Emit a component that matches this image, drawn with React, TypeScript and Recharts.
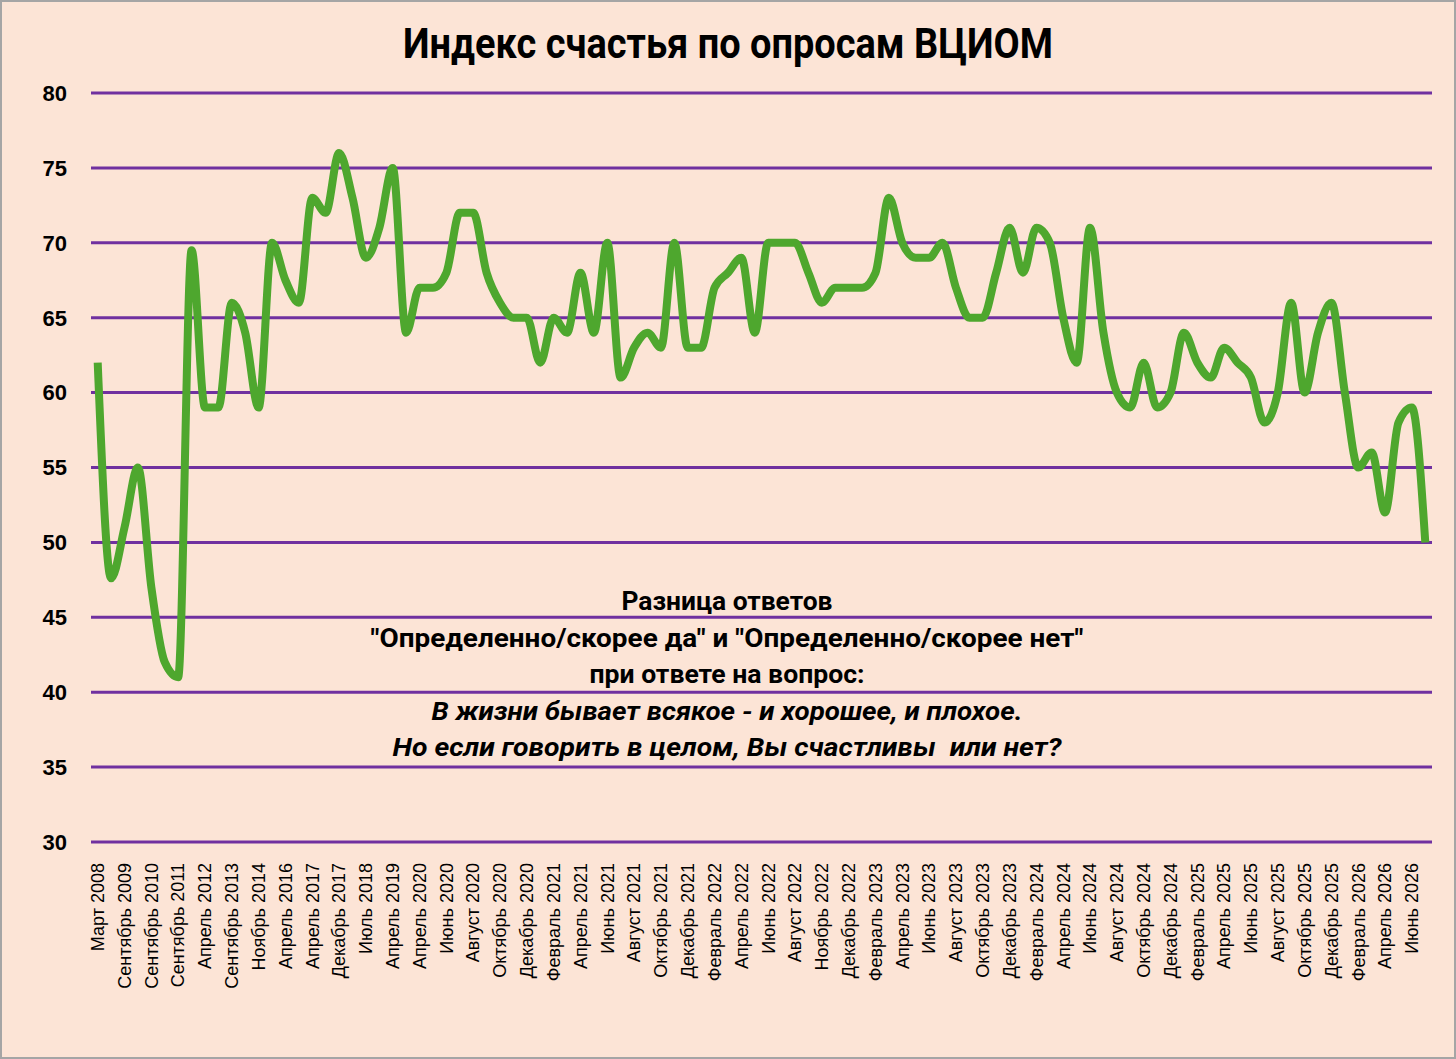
import React from 'react';
import { LineChart, Line, XAxis, YAxis, CartesianGrid } from 'recharts';

// подписи оси X (каждая вторая точка)
const tickLabels = [
  'Март 2008', 'Сентябрь 2009', 'Сентябрь 2010', 'Сентябрь 2011', 'Апрель 2012',
  'Сентябрь 2013', 'Ноябрь 2014', 'Апрель 2016', 'Апрель 2017', 'Декабрь 2017',
  'Июль 2018', 'Апрель 2019', 'Апрель 2020', 'Июнь 2020', 'Август 2020',
  'Октябрь 2020', 'Декабрь 2020', 'Февраль 2021', 'Апрель 2021', 'Июнь 2021',
  'Август 2021', 'Октябрь 2021', 'Декабрь 2021', 'Февраль 2022', 'Апрель 2022',
  'Июнь 2022', 'Август 2022', 'Ноябрь 2022', 'Декабрь 2022', 'Февраль 2023',
  'Апрель 2023', 'Июнь 2023', 'Август 2023', 'Октябрь 2023', 'Декабрь 2023',
  'Февраль 2024', 'Апрель 2024', 'Июнь 2024', 'Август 2024', 'Октябрь 2024',
  'Декабрь 2024', 'Февраль 2025', 'Апрель 2025', 'Июнь 2025', 'Август 2025',
  'Октябрь 2025', 'Декабрь 2025', 'Февраль 2026', 'Апрель 2026', 'Июнь 2026',
];

// индекс счастья, все замеры подряд
const happiness = [
  62, 47.6, 51, 55, 47, 42, 41, 69.5, 59, 59,
  66, 64, 59, 70, 67.5, 66, 73, 72, 76, 73,
  69, 71, 75, 64, 67, 67, 68, 72, 72, 68,
  66, 65, 65, 62, 65, 64, 68, 64, 70, 61,
  63, 64, 63, 70, 63, 63, 67, 68, 69, 64,
  70, 70, 70, 68, 66, 67, 67, 67, 68, 73,
  70, 69, 69, 70, 67, 65, 65, 68, 71, 68,
  71, 70, 65, 62, 71, 64, 60, 59, 62, 59,
  60, 64, 62, 61, 63, 62, 61, 58, 60, 66,
  60, 64, 66, 60, 55, 56, 52, 58, 59, 50,
];

const yTicks = [30, 35, 40, 45, 50, 55, 60, 65, 70, 75, 80];

const title = 'Индекс счастья по опросам ВЦИОМ';

const noteLines = [
  { text: 'Разница ответов', italic: false, width: 211 },
  { text: '"Определенно/скорее да" и "Определенно/скорее нет"', italic: false, width: 713 },
  { text: 'при ответе на вопрос:', italic: false, width: 275 },
  { text: 'В жизни бывает всякое - и хорошее, и плохое.', italic: true, width: 591 },
  { text: 'Но если говорить в целом, Вы счастливы  или нет?', italic: true, width: 669 },
];

const data = happiness.map((v, i) => ({ i, v }));
const xTicks = tickLabels.map((_, k) => k * 2);

const headFont = "Roboto, 'Noto Sans', sans-serif";
const axisFont = "'Liberation Sans', Arial, sans-serif";

const XTick = (props: any) => {
  const { x, y, payload } = props;
  const label = tickLabels[payload.value / 2] ?? '';
  return (
    <g transform={`translate(${x},${y + 13})`}>
      <text
        transform="rotate(-90)"
        textAnchor="end"
        dy="0.35em"
        fontSize={18}
        fontFamily={axisFont}
        fill="#000"
      >
        {label}
      </text>
    </g>
  );
};

export default function App() {
  return (
    <div
      style={{
        position: 'absolute',
        left: 0,
        top: 0,
        width: 1452,
        height: 1055,
        border: '2px solid #a5a5a5',
        background: '#fce4d6',
      }}
    >
      <LineChart
        width={1452}
        height={1055}
        data={data}
        margin={{ top: 91, right: 22, left: 0, bottom: 65 }}
      >
        <CartesianGrid vertical={false} stroke="#7030a0" strokeWidth={3} />
        <XAxis
          dataKey="i"
          type="number"
          domain={[-0.5, 99.5]}
          ticks={xTicks}
          interval={0}
          tick={<XTick />}
          tickLine={false}
          axisLine={false}
          height={150}
        />
        <YAxis
          domain={[30, 80]}
          ticks={yTicks}
          interval={0}
          width={89}
          tickLine={false}
          axisLine={false}
          tickSize={0}
          tickMargin={24}
          tick={{ fill: '#000', fontSize: 22, fontWeight: 700, fontFamily: axisFont }}
        />
        <Line
          type="monotone"
          dataKey="v"
          stroke="#4ea72e"
          strokeWidth={8}
          dot={false}
          isAnimationActive={false}
        />
      </LineChart>
      <svg
        width={1452}
        height={1055}
        style={{ position: 'absolute', left: 0, top: 0, pointerEvents: 'none' }}
      >
        <text
          x={726}
          y={56}
          textAnchor="middle"
          fontFamily={headFont}
          fontWeight={700}
          fontSize={42}
          textLength={650}
          lengthAdjust="spacingAndGlyphs"
          fill="#000"
        >
          {title}
        </text>
        {noteLines.map((l, k) => (
          <text
            key={l.text}
            x={725}
            y={608 + k * 36.5}
            textAnchor="middle"
            fontFamily={headFont}
            fontWeight={700}
            fontStyle={l.italic ? 'italic' : 'normal'}
            fontSize={25}
            textLength={l.width}
            lengthAdjust="spacingAndGlyphs"
            fill="#000"
            style={{ whiteSpace: 'pre' }}
          >
            {l.text}
          </text>
        ))}
      </svg>
    </div>
  );
}
